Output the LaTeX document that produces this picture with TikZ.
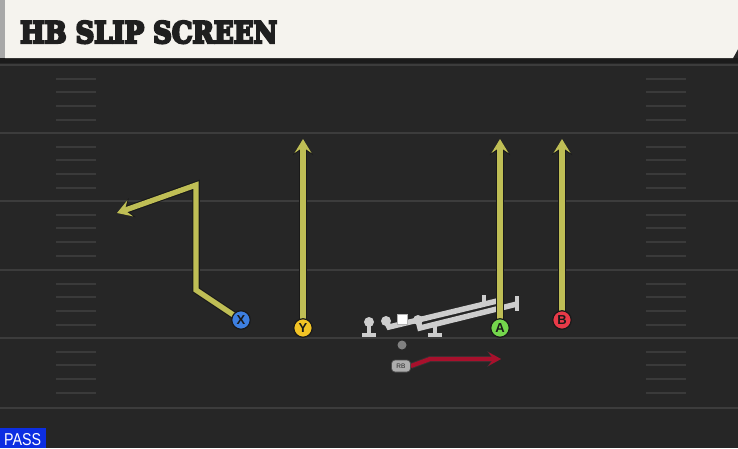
\documentclass[tikz,border=0pt]{standalone}
\usepackage{fontspec}
\usetikzlibrary{arrows.meta}
\font\titlefnt="DejaVu Serif/B:embolden=8" at 30pt
\newfontfamily\labfont{Liberation Sans}
\definecolor{fieldbg}{HTML}{262626}
\definecolor{yardline}{HTML}{3C3C3C}
\definecolor{hashline}{HTML}{3A3A3A}
\definecolor{cream}{HTML}{F5F3EE}
\definecolor{stripe}{HTML}{A8A8A8}
\definecolor{band}{HTML}{1B1B1B}
\definecolor{routecol}{HTML}{BFBE55}
\definecolor{rbroute}{HTML}{A8102C}
\definecolor{xblue}{HTML}{3D7FE0}
\definecolor{yyellow}{HTML}{F2C325}
\definecolor{agreen}{HTML}{74D64C}
\definecolor{bred}{HTML}{E83A48}
\definecolor{linecol}{HTML}{CDCDCD}
\definecolor{passblue}{HTML}{0C2EE2}
\pgfdeclarelayer{fieldlayer}
\pgfdeclarelayer{routelayer}
\pgfsetlayers{fieldlayer,routelayer,main}
\tikzset{
  yard/.style={draw=yardline, line width=2.4pt},
  hashmark/.style={draw=hashline, line width=1.8pt},
  player/.style={circle, draw=black!90, line width=1.2pt, minimum size=18.5pt, inner sep=0pt,
    font=\labfont\bfseries\fontsize{13}{13}\selectfont, text=black!90},
  routeunder/.style={draw=black!90, line width=7.5pt, -{Stealth[length=16pt,width=20pt,inset=6.5pt]}},
  routetop/.style={draw=routecol, line width=5.3pt, -{Stealth[length=14pt,width=17pt,inset=5.8pt]}},
  rbunder/.style={draw=black!80, line width=6pt, -{Stealth[length=14pt,width=16pt,inset=5.5pt]}},
  rbtop/.style={draw=rbroute, line width=4.2pt, -{Stealth[length=12.5pt,width=13.5pt,inset=4.8pt]}},
  lman/.style={circle, fill=linecol, minimum size=10pt, inner sep=0pt},
  lbar/.style={draw=linecol, line width=5.5pt},
  lstem/.style={draw=linecol, line width=4pt},
  rbnode/.style={rounded corners=3.5pt, fill=black!32, draw=black!70, line width=0.7pt,
    minimum width=19pt, minimum height=12pt, inner sep=0pt,
    font=\labfont\fontsize{6.5}{6.5}\selectfont, text=black!85},
}
\begin{document}
\begin{tikzpicture}[x=1pt,y=-1pt]
\useasboundingbox (0,0) rectangle (738,448);
\begin{pgfonlayer}{fieldlayer}
  \fill[fieldbg] (0,0) rectangle (738,448);
  \fill[band] (0,58) rectangle (738,63);
  \fill[cream] (5,0) -- (738,0) -- (738,49) -- (733,58) -- (5,58) -- cycle;
  \fill[stripe] (0,0) rectangle (5,58);
  \foreach \y in {65,133,201,270,338,408} \draw[yard] (0,\y) -- (738,\y);
  \foreach \b in {65,133,201,270,338} \foreach \o in {14,27,41,55} {
    \draw[hashmark] (56,\b+\o) -- (96,\b+\o);
    \draw[hashmark] (646,\b+\o) -- (686,\b+\o);
  }
  % offensive line
  \node[lman] (LT) at (369,322) {};
  \draw[lstem] (LT.center) -- (369,334);
  \draw[lstem] (362,334.5) -- (376,334.5);
  \node[lman] (LG) at (386,321) {};
  \node[lman] (RG) at (418,320) {};
  \draw[lbar] (LG.center) -- (389,327) -- (497,301);
  \draw[lstem] (484,295) -- (484,306);
  \draw[lbar] (RG.center) -- (420,328) -- (517,304);
  \draw[lstem] (517,296) -- (517,311);
  \draw[lstem] (435,325) -- (435,334);
  \draw[lstem] (428,334.5) -- (442,334.5);
  \node[fill=white, draw=black!30, line width=0.4pt, minimum size=10pt, inner sep=0pt] (C) at (402,319) {};
  \node[circle, fill=black!50, minimum size=9pt, inner sep=0pt] (QB) at (402,345) {};
\end{pgfonlayer}

\node[anchor=base west, inner sep=0pt, text=black!88] (title) at (20,43)
  {\resizebox{257pt}{22pt}{\titlefnt HB SLIP SCREEN}};

\node[fill=passblue, anchor=south west, inner sep=0pt, minimum width=46pt, minimum height=20pt] (pass) at (0,448) {};
\node[text=white, anchor=base west, inner sep=0pt] (passtxt) at (4,445)
  {\resizebox{37pt}{12pt}{\labfont PASS}};

\node[player, fill=xblue] (X) at (241,320) {X};
\node[player, fill=yyellow] (Y) at (303,328) {Y};
\node[player, fill=agreen] (A) at (500,328) {A};
\node[player, fill=bred] (B) at (562,320) {B};
\node[rbnode] (RB) at (401,366) {RB};

\coordinate (x1) at (196,290);
\coordinate (x2) at (196,185);
\coordinate (xe) at (117,213);
\coordinate (ye) at (303,139);
\coordinate (ae) at (500,139);
\coordinate (be) at (562,139);
\coordinate (r1) at (430,359);
\coordinate (re) at (501,359);

\begin{pgfonlayer}{routelayer}
  \draw[routeunder] (X.center) -- (x1) -- (x2) -- (xe);
  \draw[routetop] (X.center) -- (x1) -- (x2) -- (xe);
  \foreach \p/\e in {Y/ye, A/ae, B/be} {
    \draw[routeunder] (\p.center) -- (\e);
    \draw[routetop] (\p.center) -- (\e);
  }
  \draw[rbunder] (RB.east) -- (r1) -- (re);
  \draw[rbtop] (RB.east) -- (r1) -- (re);
\end{pgfonlayer}
\end{tikzpicture}
\end{document}
